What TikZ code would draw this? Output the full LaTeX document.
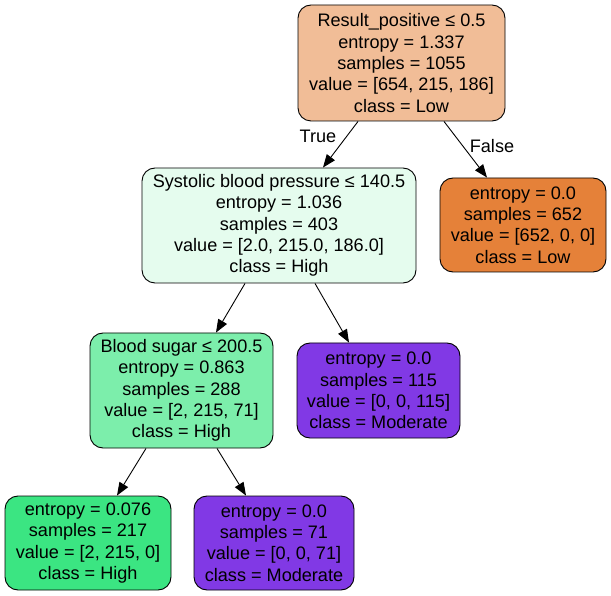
\documentclass[tikz,border=0pt]{standalone}
\usepackage{fontspec}
\setmainfont{Liberation Sans}
\usetikzlibrary{arrows.meta}
\definecolor{rootfill}{RGB}{241,189,151}
\definecolor{sysfill}{RGB}{229,252,238}
\definecolor{sugarfill}{RGB}{124,238,171}
\definecolor{highfill}{RGB}{59,229,130}
\definecolor{lowfill}{RGB}{229,129,57}
\definecolor{modfill}{RGB}{129,57,229}
\tikzset{
  treenode/.style={draw=black, line width=0.9pt, rounded corners=13pt,
    align=center, inner sep=0pt,
    font=\fontsize{18.1}{21.3}\selectfont},
  branch/.style={line width=0.9pt, -{Triangle[length=13pt,width=10pt]}},
  edgelabel/.style={font=\fontsize{18.1}{21.3}\selectfont, inner sep=0pt}
}
\begin{document}
\begin{tikzpicture}[x=1pt, y=-1pt]
\useasboundingbox (0,0) rectangle (611,596);

% split and leaf nodes
\node[treenode, fill=rootfill, minimum width=207pt, minimum height=116pt] (root) at (401.5,63)
  {Result\_positive ≤ 0.5\\entropy = 1.337\\samples = 1055\\value = [654, 215, 186]\\class = Low};
\node[treenode, fill=sysfill, minimum width=274pt, minimum height=115pt] (sys) at (279,225.5)
  {Systolic blood pressure ≤ 140.5\\entropy = 1.036\\samples = 403\\value = [2.0, 215.0, 186.0]\\class = High};
\node[treenode, fill=lowfill, minimum width=166pt, minimum height=94pt] (low) at (523,225)
  {entropy = 0.0\\samples = 652\\value = [652, 0, 0]\\class = Low};
\node[treenode, fill=sugarfill, minimum width=183pt, minimum height=115pt] (sugar) at (181.5,390.5)
  {Blood sugar ≤ 200.5\\entropy = 0.863\\samples = 288\\value = [2, 215, 71]\\class = High};
\node[treenode, fill=modfill, minimum width=163pt, minimum height=95pt] (modA) at (378.5,390.5)
  {entropy = 0.0\\samples = 115\\value = [0, 0, 115]\\class = Moderate};
\node[treenode, fill=highfill, minimum width=166pt, minimum height=94pt] (high) at (88,543)
  {entropy = 0.076\\samples = 217\\value = [2, 215, 0]\\class = High};
\node[treenode, fill=modfill, minimum width=160pt, minimum height=94pt] (modB) at (274,543)
  {entropy = 0.0\\samples = 71\\value = [0, 0, 71]\\class = Moderate};

% branches
\draw[branch] ([xshift=-43.5pt]root.south) -- ([xshift=44pt]sys.north);
\draw[branch] ([xshift=42.5pt]root.south) -- ([xshift=-36pt]low.north);
\draw[branch] ([xshift=-34pt]sys.south) -- ([xshift=34.5pt]sugar.north);
\draw[branch] ([xshift=36pt]sys.south) -- ([xshift=-29.5pt]modA.north);
\draw[branch] ([xshift=-35.5pt]sugar.south) -- ([xshift=29pt]high.north);
\draw[branch] ([xshift=35.5pt]sugar.south) -- ([xshift=-28pt]modB.north);

% branch labels
\node[edgelabel] (truelbl) at (318,136) {True};
\node[edgelabel] (falselbl) at (492,146) {False};
\end{tikzpicture}
\end{document}
